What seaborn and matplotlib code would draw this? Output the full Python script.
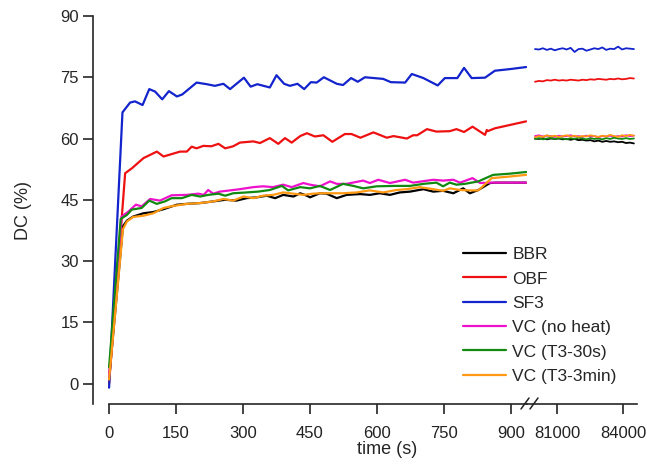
import numpy as np
import pandas as pd
import seaborn as sns
import matplotlib.pyplot as plt
from matplotlib.lines import Line2D

# series names and colours
names = ['BBR', 'OBF', 'SF3', 'VC (no heat)', 'VC (T3-30s)', 'VC (T3-3min)']
colors = ['#000000', '#ee1111', '#1424cc', '#ee11cc', '#128a12', '#ff9914']

# first part of the run (0 - ~930 s)
black_t = [0, 31, 40, 54, 77, 99, 122, 152, 174, 204, 233, 260, 285, 308, 331, 353, 372, 390, 413, 428,
           443, 450, 472, 487, 510, 532, 562, 584, 606, 629, 651, 674, 704, 726, 748, 771, 793, 808, 827, 853, 867, 934]
black_v = [1.0, 38.5, 39.9, 40.9, 41.7, 42.0, 42.7, 43.8, 44.0, 44.2, 44.6, 45.0, 44.8, 45.4, 45.6, 46.0, 45.4, 46.2, 45.8, 46.6,
           46.0, 45.6, 46.6, 46.5, 45.4, 46.2, 46.4, 46.2, 46.6, 46.2, 46.8, 47.0, 47.6, 47.0, 47.2, 46.6, 47.8, 46.6, 47.4, 49.1, 49.2, 49.2]

red_t = [0, 36, 51, 77, 107, 122, 159, 174, 185, 196, 211, 229, 245, 260, 278, 293, 323, 338, 360, 379, 394, 409, 428, 443,
         461, 480, 500, 528, 543, 563, 592, 622, 637, 667, 681, 690, 712, 733, 763, 778, 795, 814, 842, 846, 848, 864, 934]
red_v = [0.0, 51.5, 52.7, 55.2, 56.8, 55.6, 56.8, 56.8, 58.0, 57.6, 58.2, 58.1, 58.7, 57.6, 58.1, 59.0, 59.3, 58.9, 60.1, 58.7, 60.1, 59.0, 60.6, 61.3,
         60.5, 60.8, 59.2, 61.1, 61.1, 60.2, 61.5, 60.2, 60.6, 60.0, 60.8, 60.8, 62.3, 61.7, 61.8, 62.3, 61.6, 62.9, 60.9, 62.1, 61.8, 62.5, 64.2]

blue_t = [0, 30, 47, 58, 75, 90, 103, 119, 134, 152, 164, 196, 219, 237, 256, 271, 302, 317, 332, 360, 375, 392, 405, 422,
          437, 452, 465, 481, 510, 524, 542, 557, 573, 614, 631, 663, 678, 704, 736, 752, 780, 795, 812, 842, 864, 898, 934]
blue_v = [-1.0, 66.4, 68.8, 69.1, 68.2, 72.1, 71.5, 69.6, 71.6, 70.3, 70.8, 73.7, 73.3, 72.9, 73.4, 72.1, 74.9, 72.7, 73.3, 72.5, 75.5, 73.4, 72.9, 73.4,
          72.1, 73.8, 73.7, 75.0, 73.4, 73.1, 74.8, 73.9, 75.0, 74.6, 73.8, 73.7, 75.8, 74.8, 73.0, 74.8, 74.8, 77.3, 74.8, 74.9, 76.6, 77.0, 77.5]

pink_t = [0, 28, 43, 60, 73, 92, 114, 140, 174, 200, 212, 222, 233, 248, 271, 293, 323, 345, 367, 390, 409,
          435, 450, 472, 495, 510, 532, 569, 584, 603, 629, 663, 681, 726, 748, 771, 786, 814, 831, 857, 934]
pink_v = [2.0, 40.9, 42.1, 43.8, 43.4, 45.2, 44.8, 46.1, 46.2, 46.5, 46.2, 47.4, 46.5, 47.0, 47.3, 47.6, 48.1, 48.3, 48.1, 48.7, 48.1,
          49.1, 48.7, 48.3, 49.5, 48.9, 48.9, 49.7, 49.1, 49.9, 49.1, 49.9, 49.2, 49.9, 49.7, 49.9, 49.2, 50.3, 49.1, 49.2, 49.2]

green_t = [0, 26, 40, 51, 73, 90, 107, 125, 140, 163, 185, 204, 222, 245, 260, 278, 308, 334, 360, 387, 401,
           428, 450, 472, 495, 524, 547, 569, 599, 640, 674, 704, 733, 748, 763, 778, 797, 827, 860, 898, 934]
green_v = [4.0, 40.3, 41.3, 42.6, 43.0, 44.8, 44.0, 44.6, 45.4, 45.4, 46.2, 45.8, 46.2, 46.5, 46.0, 46.6, 46.8, 47.0, 47.4, 48.4, 47.3,
           48.1, 47.8, 48.4, 47.4, 48.9, 48.4, 47.8, 48.3, 48.4, 48.4, 48.9, 49.2, 48.3, 49.2, 48.7, 48.9, 49.5, 51.1, 51.4, 51.8]

orange_t = [0, 31, 40, 54, 77, 99, 122, 144, 174, 204, 233, 256, 278, 301, 323, 345, 367, 390, 413, 435,
            457, 472, 495, 524, 554, 584, 614, 644, 667, 696, 726, 748, 763, 786, 808, 827, 857, 898, 934]
orange_v = [1.0, 37.8, 39.7, 40.8, 41.1, 41.7, 43.0, 43.5, 44.0, 44.2, 44.6, 45.2, 44.8, 45.8, 45.4, 46.0, 46.2, 46.8, 46.5, 46.2,
            46.5, 46.6, 46.6, 46.6, 46.8, 47.3, 46.8, 47.4, 47.6, 48.1, 47.6, 47.2, 47.8, 47.4, 47.3, 47.3, 50.3, 50.7, 51.1]

# late part of the run (80000 - 84500 s)
late_t = np.arange(80000, 84501, 180)
black_r = [60.0, 59.9, 60.1, 59.8, 60.0, 59.9, 60.0, 59.8, 59.9, 59.7, 59.9, 59.6, 59.7,
           59.5, 59.6, 59.3, 59.5, 59.2, 59.4, 59.2, 59.3, 59.1, 59.2, 58.9, 59.0, 58.8]
red_r = [73.9, 74.1, 74.0, 74.3, 74.2, 74.4, 74.2, 74.3, 74.2, 74.4, 74.3, 74.2, 74.4,
         74.3, 74.5, 74.4, 74.6, 74.5, 74.4, 74.6, 74.5, 74.7, 74.5, 74.6, 74.8, 74.7]
blue_r = [81.9, 81.8, 82.1, 81.7, 82.0, 81.6, 81.9, 82.1, 81.8, 82.2, 81.2, 81.9, 82.0,
          81.5, 81.8, 82.1, 81.9, 82.3, 81.7, 82.0, 81.9, 82.5, 81.8, 82.1, 82.0, 81.9]
pink_r = [60.6, 60.8, 60.5, 60.7, 60.6, 60.4, 60.7, 60.5, 60.6, 60.8, 60.5, 60.6, 60.4,
          60.7, 60.5, 60.6, 60.3, 60.6, 60.5, 60.7, 60.4, 60.6, 60.5, 60.8, 60.6, 60.7]
green_r = [59.9, 60.1, 59.8, 60.0, 60.2, 59.9, 60.1, 60.0, 59.8, 60.1, 59.9, 60.2, 60.0,
           59.8, 60.1, 59.9, 60.0, 59.8, 60.1, 59.9, 60.2, 60.0, 59.9, 60.1, 59.9, 60.0]
orange_r = [60.3, 60.6, 60.4, 60.8, 60.5, 60.7, 60.4, 60.6, 60.8, 60.5, 60.7, 60.4, 60.6,
            60.5, 60.8, 60.6, 60.4, 60.7, 60.5, 60.9, 60.6, 60.4, 60.8, 60.6, 60.9, 60.7]

early = [(black_t, black_v), (red_t, red_v), (blue_t, blue_v), (pink_t, pink_v), (green_t, green_v), (orange_t, orange_v)]
late = [black_r, red_r, blue_r, pink_r, green_r, orange_r]

df1 = pd.concat([pd.DataFrame({'time': t, 'DC': v, 'sample': n}) for (t, v), n in zip(early, names)])
df2 = pd.concat([pd.DataFrame({'time': late_t, 'DC': v, 'sample': n}) for v, n in zip(late, names)])

sns.set_style('ticks')
plt.rcParams['font.family'] = ['Liberation Sans', 'DejaVu Sans']
plt.rcParams['font.size'] = 12

fig = plt.figure(figsize=(6.47, 4.71), dpi=100)
bot, h = 1 - 404 / 471, (404 - 16) / 471
ax1 = fig.add_axes([93 / 647, bot, (527 - 93) / 647, h])
ax2 = fig.add_axes([527 / 647, bot, (637 - 527) / 647, h])
ax1.patch.set_alpha(0)
ax2.patch.set_alpha(0)

pal = dict(zip(names, colors))
sns.lineplot(data=df1, x='time', y='DC', hue='sample', hue_order=names, palette=pal,
             estimator=None, sort=False, lw=1.6, legend=False, ax=ax1)
sns.lineplot(data=df2, x='time', y='DC', hue='sample', hue_order=names, palette=pal,
             estimator=None, sort=False, lw=1.3, legend=False, ax=ax2)

for ax in (ax1, ax2):
    ax.set_ylim(-5, 90)
    ax.set_xlabel('')
    ax.set_ylabel('')
    ax.spines['top'].set_visible(False)
    ax.spines['right'].set_visible(False)
    ax.tick_params(axis='x', length=7, width=1.2, pad=9, labelsize=12, colors='#222222')
    ax.spines['bottom'].set_linewidth(1.2)

ax1.set_xlim(-36, 936)
ax1.set_xticks([0, 150, 300, 450, 600, 750, 900])
ax1.spines['bottom'].set_bounds(0, 936)
ax1.set_yticks([0, 15, 30, 45, 60, 75, 90])
ax1.tick_params(axis='y', length=7, width=1.2, pad=3, labelsize=12)
ax1.spines['left'].set_linewidth(1.2)

ax2.set_xlim(79636, 84640)
ax2.set_xticks([81000, 84000])
ax2.spines['left'].set_visible(False)
ax2.tick_params(axis='y', left=False, labelleft=False)

# break marks on the time axis
yb = 1 - 404 / 471
for x0 in (521, 530):
    fig.add_artist(Line2D([x0 / 647, (x0 + 8) / 647], [yb - 5 / 471, yb + 6 / 471],
                          color='#222222', lw=1.1))

fig.text(23 / 647, 1 - 210 / 471, 'DC (%)', rotation=90, ha='center', va='center', fontsize=13)
fig.text(387 / 647, 1 - 450 / 471, 'time (s)', ha='center', va='center', fontsize=13)

fig.legend(handles=ax1.lines[:6], labels=names, loc='upper left',
           bbox_to_anchor=(463 / 647, 1 - 247 / 471), frameon=False, fontsize=12.5,
           borderpad=0, borderaxespad=0, handlelength=2.45, handletextpad=0.4, labelspacing=0.53)

fig.savefig('out.png', dpi=100)
